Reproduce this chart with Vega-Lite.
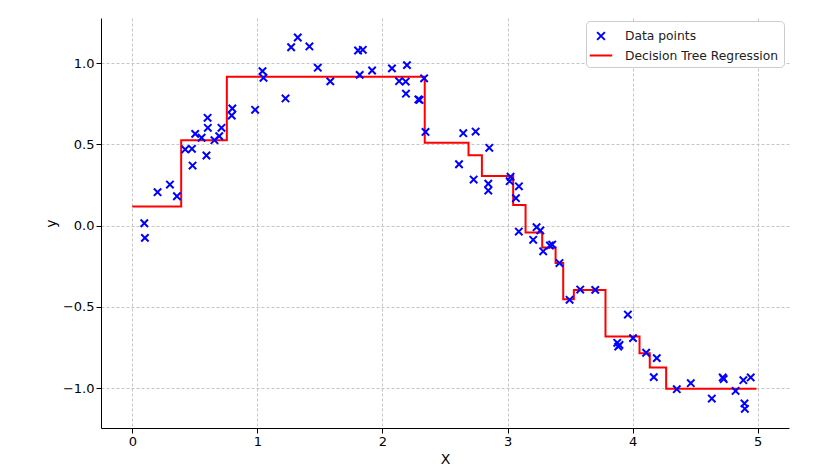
{
  "$schema": "https://vega.github.io/schema/vega-lite/v6.json",
  "width": 688,
  "height": 410,
  "autosize": {"type": "none"},
  "padding": {"left": 101, "top": 18, "right": 41, "bottom": 47},
  "background": "white",
  "config": {
    "view": {"stroke": null},
    "font": "DejaVu Sans",
    "axis": {
      "domainColor": "#000000",
      "domainWidth": 1,
      "tickColor": "#000000",
      "tickSize": 5,
      "labelFontSize": 13,
      "labelColor": "#000000",
      "labelFont": "DejaVu Sans",
      "titleFont": "DejaVu Sans",
      "titleFontSize": 14,
      "titleFontWeight": "normal",
      "titleColor": "#000000",
      "gridColor": "#b8b8b8",
      "gridDash": [3, 2],
      "gridWidth": 0.8
    },
    "legend": {
      "orient": "none",
      "legendX": 485,
      "legendY": 3,
      "padding": 5,
      "fillColor": "white",
      "strokeColor": "#cccccc",
      "cornerRadius": 4,
      "labelFontSize": 12.3,
      "labelFont": "DejaVu Sans",
      "labelColor": "#222222",
      "labelOffset": 14,
      "labelLimit": 400,
      "symbolSize": 300,
      "symbolStrokeWidth": 2,
      "rowPadding": 1.5
    }
  },
  "datasets": {
    "points": [
      {"X": 0.096, "y": 0.014}, {"X": 0.101, "y": -0.076}, {"X": 0.202, "y": 0.205}, {"X": 0.301, "y": 0.252},
      {"X": 0.357, "y": 0.180}, {"X": 0.423, "y": 0.468}, {"X": 0.477, "y": 0.472}, {"X": 0.482, "y": 0.369},
      {"X": 0.503, "y": 0.564}, {"X": 0.554, "y": 0.540}, {"X": 0.593, "y": 0.431}, {"X": 0.602, "y": 0.663},
      {"X": 0.604, "y": 0.601}, {"X": 0.657, "y": 0.525}, {"X": 0.695, "y": 0.550}, {"X": 0.713, "y": 0.601},
      {"X": 0.795, "y": 0.677}, {"X": 0.800, "y": 0.720}, {"X": 0.982, "y": 0.712}, {"X": 1.041, "y": 0.950},
      {"X": 1.049, "y": 0.909}, {"X": 1.225, "y": 0.782}, {"X": 1.270, "y": 1.097}, {"X": 1.323, "y": 1.157},
      {"X": 1.416, "y": 1.102}, {"X": 1.483, "y": 0.971}, {"X": 1.583, "y": 0.887}, {"X": 1.805, "y": 1.077},
      {"X": 1.843, "y": 1.081}, {"X": 1.818, "y": 0.927}, {"X": 1.917, "y": 0.954}, {"X": 2.076, "y": 0.967},
      {"X": 2.133, "y": 0.888}, {"X": 2.186, "y": 0.886}, {"X": 2.196, "y": 0.987}, {"X": 2.188, "y": 0.811},
      {"X": 2.287, "y": 0.776}, {"X": 2.297, "y": 0.773}, {"X": 2.333, "y": 0.906}, {"X": 2.344, "y": 0.576},
      {"X": 2.612, "y": 0.377}, {"X": 2.646, "y": 0.568}, {"X": 2.729, "y": 0.283}, {"X": 2.745, "y": 0.578},
      {"X": 2.846, "y": 0.257}, {"X": 2.846, "y": 0.215}, {"X": 2.854, "y": 0.478}, {"X": 3.017, "y": 0.273},
      {"X": 3.024, "y": 0.300}, {"X": 3.067, "y": 0.168}, {"X": 3.090, "y": -0.037}, {"X": 3.091, "y": 0.241},
      {"X": 3.205, "y": -0.088}, {"X": 3.232, "y": -0.010}, {"X": 3.262, "y": -0.030}, {"X": 3.285, "y": -0.159},
      {"X": 3.339, "y": -0.123}, {"X": 3.357, "y": -0.117}, {"X": 3.415, "y": -0.231}, {"X": 3.496, "y": -0.457},
      {"X": 3.581, "y": -0.394}, {"X": 3.701, "y": -0.396}, {"X": 3.877, "y": -0.722}, {"X": 3.885, "y": -0.745},
      {"X": 3.895, "y": -0.735}, {"X": 3.962, "y": -0.548}, {"X": 4.003, "y": -0.693}, {"X": 4.108, "y": -0.783},
      {"X": 4.169, "y": -0.933}, {"X": 4.193, "y": -0.816}, {"X": 4.353, "y": -1.007}, {"X": 4.465, "y": -0.970},
      {"X": 4.633, "y": -1.065}, {"X": 4.720, "y": -0.935}, {"X": 4.728, "y": -0.945}, {"X": 4.823, "y": -1.018},
      {"X": 4.885, "y": -0.952}, {"X": 4.894, "y": -1.095}, {"X": 4.897, "y": -1.128}, {"X": 4.944, "y": -0.935}
    ],
    "tree": [
      {"X": 0.0, "y": 0.117}, {"X": 0.391, "y": 0.525}, {"X": 0.756, "y": 0.915}, {"X": 2.338, "y": 0.509},
      {"X": 2.688, "y": 0.433}, {"X": 2.795, "y": 0.305}, {"X": 3.045, "y": 0.127}, {"X": 3.144, "y": -0.043},
      {"X": 3.277, "y": -0.135}, {"X": 3.384, "y": -0.230}, {"X": 3.445, "y": -0.453}, {"X": 3.530, "y": -0.397},
      {"X": 3.783, "y": -0.683}, {"X": 4.055, "y": -0.786}, {"X": 4.137, "y": -0.874}, {"X": 4.268, "y": -1.005},
      {"X": 4.99, "y": -1.005}
    ]
  },
  "layer": [
    {
      "data": {"name": "tree"},
      "mark": {"type": "line", "interpolate": "step-after", "strokeWidth": 2},
      "encoding": {
        "x": {"field": "X", "type": "quantitative"},
        "y": {"field": "y", "type": "quantitative"},
        "color": {"datum": "Decision Tree Regression", "type": "nominal"}
      }
    },
    {
      "data": {"name": "points"},
      "mark": {"type": "point", "filled": false, "size": 269, "strokeWidth": 2, "opacity": 1},
      "encoding": {
        "x": {
          "field": "X", "type": "quantitative",
          "scale": {"domain": [-0.25, 5.25], "nice": false, "zero": false},
          "axis": {"title": "X", "values": [0, 1, 2, 3, 4, 5], "format": ".0f", "grid": true}
        },
        "y": {
          "field": "y", "type": "quantitative",
          "scale": {"domain": [-1.246, 1.277], "nice": false, "zero": false},
          "axis": {"title": "y", "values": [-1, -0.5, 0, 0.5, 1], "labelExpr": "replace(format(datum.value, '.1f'), '-', '−')", "grid": true}
        },
        "color": {
          "datum": "Data points", "type": "nominal",
          "scale": {"domain": ["Data points", "Decision Tree Regression"], "range": ["#0000ff", "#ff0000"]},
          "legend": {"title": null}
        },
        "shape": {
          "datum": "Data points", "type": "nominal",
          "scale": {"domain": ["Data points", "Decision Tree Regression"], "range": ["M-0.45,-0.45L0.45,0.45M-0.45,0.45L0.45,-0.45", "M-1.3,0L1.3,0"]},
          "legend": {"title": null}
        }
      }
    }
  ]
}
